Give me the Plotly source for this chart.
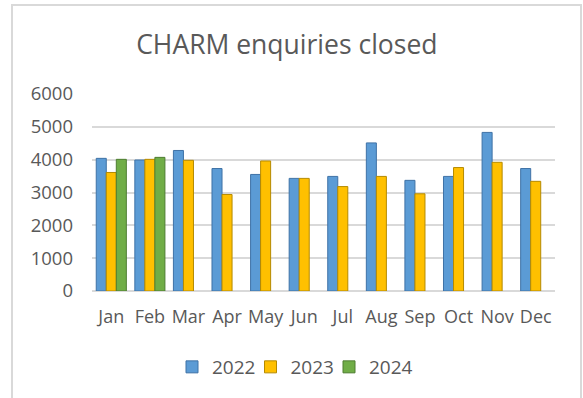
import plotly.graph_objects as go

# Monthly counts of closed CHARM enquiries
months = ["Jan", "Feb", "Mar", "Apr", "May", "Jun",
          "Jul", "Aug", "Sep", "Oct", "Nov", "Dec"]
closed_2022 = [4040, 3990, 4280, 3730, 3550, 3430, 3490, 4510, 3370, 3490, 4830, 3730]
closed_2023 = [3610, 4010, 3980, 2940, 3960, 3430, 3180, 3490, 2960, 3760, 3920, 3340]
closed_2024 = [4010, 4070, None, None, None, None, None, None, None, None, None, None]

series = [
    ("2022", closed_2022, "#5b9bd5", "#3f72a6", "legend"),
    ("2023", closed_2023, "#ffc000", "#b58a00", "legend2"),
    ("2024", closed_2024, "#70ad47", "#4e7d31", "legend3"),
]

W, H = 583, 398
L, R, T, B = 92, 555, 94, 291  # plot area in pixels
text_col = "#595959"
font_family = "Open Sans"

fig = go.Figure()
for name, vals, fill, edge, leg in series:
    fig.add_trace(go.Bar(
        x=months, y=vals, name=name, legend=leg,
        marker=dict(color=fill, line=dict(color=edge, width=1)),
    ))

# light grey frame around the chart, open at the bottom
pw, ph = R - L, B - T
def px_x(x):
    return (x - L) / pw
def px_y(y):
    return (B - y) / ph

fig.add_shape(type="path", xref="paper", yref="paper",
              path=f"M {px_x(12)},{px_y(400)} L {px_x(12)},{px_y(5)} "
                   f"L {px_x(581)},{px_y(5)} L {px_x(581)},{px_y(400)}",
              line=dict(color="#d9d9d9", width=2), layer="below")

# one legend box per year so the entries sit at even spacing
legend_style = dict(orientation="h", xanchor="left", y=px_y(367), yanchor="middle",
                    font=dict(size=19, color=text_col), itemwidth=30,
                    bgcolor="rgba(0,0,0,0)")
legend_left = [172, 250.5, 329]

fig.update_layout(
    width=W, height=H,
    margin=dict(l=L, r=W - R, t=T, b=H - B, pad=0),
    paper_bgcolor="white", plot_bgcolor="white",
    barmode="group", bargap=0.22, bargroupgap=0,
    font=dict(family=font_family, color=text_col, size=17),
    title=dict(text="CHARM enquiries closed", x=0.492, xref="container",
               y=1 - 45 / H, yref="container", xanchor="center", yanchor="middle",
               font=dict(size=26.5, color=text_col, family=font_family)),
    xaxis=dict(showline=False, ticks="", tickfont=dict(size=18, color=text_col),
               showgrid=False, ticklabelstandoff=13),
    yaxis=dict(range=[0, 6000], dtick=1000, showgrid=True, gridcolor="#d9d9d9",
               gridwidth=2, zeroline=True, zerolinecolor="#d9d9d9", zerolinewidth=2,
               showline=False, ticks="", tickfont=dict(size=18.5, color=text_col),
               ticklabelstandoff=18),
    legend=dict(legend_style, x=px_x(legend_left[0])),
    legend2=dict(legend_style, x=px_x(legend_left[1])),
    legend3=dict(legend_style, x=px_x(legend_left[2])),
    showlegend=True,
)

fig.write_html("out.html")
